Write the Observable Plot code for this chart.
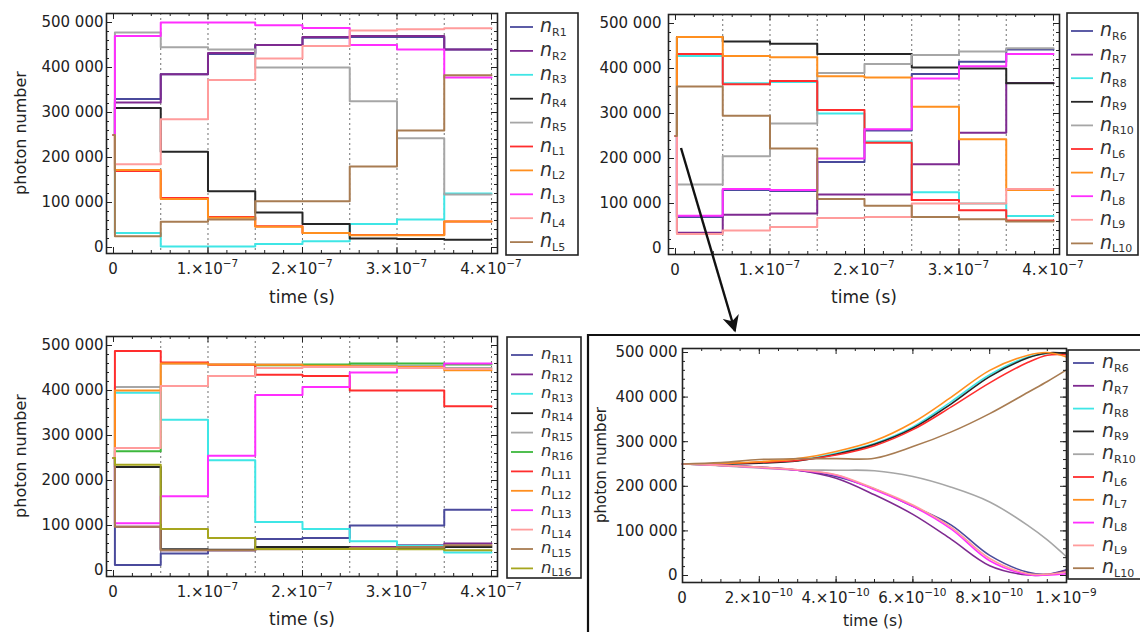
<!DOCTYPE html>
<html><head><meta charset="utf-8">
<script src="https://cdn.jsdelivr.net/npm/d3@7"></script>
<script src="https://cdn.jsdelivr.net/npm/@observablehq/plot@0.6"></script>
<style>
html,body{margin:0;padding:0;background:#fff;}
#root{position:relative;width:1140px;height:632px;overflow:hidden;background:#fff;}
.panel{position:absolute;}
#overlay{position:absolute;left:0;top:0;pointer-events:none;}
</style></head><body><div id="root"></div>
<script>
// ---------- data ----------
const stepTimes = [0.015e-7, 0.5e-7, 1.0e-7, 1.5e-7, 2.0e-7, 2.5e-7, 3.0e-7, 3.5e-7];
const endTime = 4.0e-7;
const startValue = 250000;

const colNavy = "#4a4a9c", colPurple = "#7e2a90", colCyan = "#3fe6e6", colBlack = "#262626",
      colGray = "#a6a6a6", colRed = "#ff2d2d", colOrange = "#ff8f1f", colMagenta = "#ff2eff",
      colPink = "#ff9c9c", colBrown = "#a87c52", colGreen = "#3db83d", colOlive = "#a6a61e";

const p1Names = ["R1","R2","R3","R4","R5","L1","L2","L3","L4","L5"];
const p1Colors = [colNavy,colPurple,colCyan,colBlack,colGray,colRed,colOrange,colMagenta,colPink,colBrown];
const p1Levels = [
  [330000, 385000, 430000, 450000, 466000, 468000, 468000, 440000],
  [322000, 385000, 432000, 450000, 468000, 470000, 470000, 440000],
  [32000, 2000, 2000, 8000, 14000, 52000, 62000, 120000],
  [310000, 213000, 125000, 78000, 52000, 20000, 19000, 17000],
  [478000, 445000, 440000, 400000, 400000, 325000, 243000, 118000],
  [170000, 110000, 68000, 47000, 32000, 28000, 28000, 58000],
  [172000, 108000, 66000, 46000, 32000, 27000, 27000, 58000],
  [470000, 500000, 500000, 494000, 488000, 450000, 440000, 378000],
  [185000, 285000, 372000, 420000, 448000, 482000, 485000, 487000],
  [25000, 57000, 62000, 103000, 103000, 180000, 260000, 383000]
];

const p2Names = ["R6","R7","R8","R9","R10","L6","L7","L8","L9","L10"];
const p2Colors = [colNavy,colPurple,colCyan,colBlack,colGray,colRed,colOrange,colMagenta,colPink,colBrown];
const p2Levels = [
  [70000, 130000, 128000, 192000, 262000, 388000, 415000, 442000],
  [35000, 75000, 78000, 120000, 120000, 187000, 257000, 368000],
  [428000, 367000, 370000, 300000, 238000, 125000, 100000, 72000],
  [470000, 460000, 455000, 432000, 432000, 402000, 400000, 367000],
  [142000, 205000, 278000, 390000, 410000, 430000, 438000, 445000],
  [432000, 365000, 372000, 308000, 235000, 108000, 85000, 62000],
  [470000, 428000, 425000, 383000, 380000, 315000, 243000, 130000],
  [73000, 132000, 130000, 200000, 265000, 378000, 405000, 432000],
  [32000, 40000, 48000, 68000, 70000, 100000, 100000, 132000],
  [360000, 295000, 222000, 110000, 95000, 70000, 65000, 60000]
];

const p3Names = ["R11","R12","R13","R14","R15","R16","L11","L12","L13","L14","L15","L16"];
const p3Colors = [colNavy,colPurple,colCyan,colBlack,colGray,colGreen,colRed,colOrange,colMagenta,colPink,colBrown,colOlive];
const p3Levels = [
  [12000, 38000, 45000, 70000, 72000, 100000, 100000, 135000],
  [97000, 45000, 45000, 48000, 50000, 52000, 56000, 60000],
  [395000, 335000, 245000, 108000, 92000, 65000, 55000, 40000],
  [230000, 47000, 46000, 52000, 52000, 50000, 48000, 52000],
  [408000, 460000, 458000, 458000, 456000, 456000, 455000, 450000],
  [265000, 410000, 432000, 456000, 458000, 460000, 460000, 458000],
  [488000, 462000, 457000, 435000, 432000, 400000, 400000, 365000],
  [400000, 460000, 458000, 457000, 455000, 454000, 452000, 445000],
  [105000, 165000, 255000, 390000, 408000, 440000, 450000, 460000],
  [272000, 410000, 432000, 450000, 452000, 452000, 450000, 448000],
  [97000, 45000, 45000, 47000, 48000, 50000, 52000, 56000],
  [235000, 92000, 72000, 48000, 48000, 48000, 47000, 45000]
];

const p4Names = ["R6","R7","R8","R9","R10","L6","L7","L8","L9","L10"];
const p4Colors = p2Colors;
const p4Times = [0, 1e-10, 2e-10, 3e-10, 4e-10, 5e-10, 6e-10, 7e-10, 8e-10, 9e-10, 9.5e-10, 10e-10];
const p4Values = [
  [250000, 247000, 243000, 236000, 222000, 194000, 155000, 113000, 45000, 7000, 3000, 13000],
  [250000, 247000, 243000, 236000, 218000, 181000, 137000, 81000, 22000, 1000, 2000, 12000],
  [250000, 250000, 253000, 258000, 274000, 296000, 333000, 390000, 450000, 490000, 498000, 496000],
  [250000, 250000, 252000, 257000, 272000, 294000, 330000, 385000, 446000, 488000, 499000, 498000],
  [250000, 246000, 241000, 237000, 236000, 235000, 222000, 198000, 165000, 112000, 80000, 42000],
  [250000, 251000, 254000, 258000, 270000, 291000, 327000, 378000, 432000, 478000, 494000, 495000],
  [250000, 251000, 255000, 262000, 278000, 302000, 343000, 400000, 460000, 494000, 500000, 490000],
  [250000, 247000, 242000, 236000, 225000, 192000, 155000, 104000, 33000, 2000, 1000, 4000],
  [250000, 247000, 243000, 237000, 226000, 195000, 158000, 108000, 38000, 4000, 3000, 8000],
  [250000, 253000, 260000, 262000, 262000, 263000, 289000, 322000, 363000, 411000, 435000, 461000]
];

const yTicks = [0, 100000, 200000, 300000, 400000, 500000];
const yTickLabels = ["0", "100 000", "200 000", "300 000", "400 000", "500 000"];
const xTicksA = [0, 1e-7, 2e-7, 3e-7, 4e-7];
const xTickMantA = ["0", "1.×10", "2.×10", "3.×10", "4.×10"];
const xTickExpA = ["", "−7", "−7", "−7", "−7"];
const xTicksB = [0, 2e-10, 4e-10, 6e-10, 8e-10, 1e-9];
const xTickMantB = ["0", "2.×10", "4.×10", "6.×10", "8.×10", "1.×10"];
const xTickExpB = ["", "−10", "−10", "−10", "−10", "−9"];
const switchTimes = [0.5e-7, 1e-7, 1.5e-7, 2e-7, 2.5e-7, 3e-7, 3.5e-7, 4e-7];

// ---------- build rows ----------
function stepRows(names, levels) {
  const rows = [];
  names.forEach((nm, i) => {
    rows.push({name: nm, t: 0, v: startValue});
    stepTimes.forEach((t, k) => rows.push({name: nm, t, v: levels[i][k]}));
    rows.push({name: nm, t: endTime, v: levels[i][levels[i].length - 1]});
  });
  return rows;
}
function curveRows(names, times, values) {
  const rows = [];
  names.forEach((nm, i) => times.forEach((t, k) => rows.push({name: nm, t, v: values[i][k]})));
  return rows;
}

const FONT = "DejaVu Sans";
const yFmtMap = new Map(yTicks.map((t, i) => [t, yTickLabels[i]]));
const panels = [];

function makePanel(o) {
  // inward frame ticks on all four sides (Mathematica style)
  const [x0, x1] = o.xDomain, [y0, y1] = o.yDomain;
  const xpp = (x1 - x0) / (o.width - o.ml - o.mr);
  const ypp = (y1 - y0) / (o.height - o.mt - o.mb);
  const tk = {stroke: "#222", strokeWidth: 1};
  const tickMarks = [];
  for (const [ticks, len] of [[o.xMinor, 3], [o.xTicks, 6]]) {
    tickMarks.push(Plot.ruleX(ticks, {...tk, y1: y0, y2: y0 + len * ypp}));
    tickMarks.push(Plot.ruleX(ticks, {...tk, y1: y1, y2: y1 - len * ypp}));
  }
  for (const [ticks, len] of [[o.yMinor, 3], [yTicks, 6]]) {
    tickMarks.push(Plot.ruleY(ticks, {...tk, x1: x0, x2: x0 + len * xpp}));
    tickMarks.push(Plot.ruleY(ticks, {...tk, x1: x1, x2: x1 - len * xpp}));
  }
  const plot = Plot.plot({
    width: o.width, height: o.height,
    marginTop: o.mt, marginRight: o.mr, marginBottom: o.mb, marginLeft: o.ml,
    x: {domain: o.xDomain, axis: null}, y: {domain: o.yDomain, axis: null},
    color: {domain: o.names, range: o.colors},
    style: {fontFamily: FONT, fontSize: "15px", color: "#222", background: "transparent", overflow: "visible"},
    marks: [
      o.grid ? Plot.ruleX(o.grid, {stroke: "#707070", strokeDasharray: "2,3", strokeWidth: 1}) : null,
      Plot.line(o.rows, {x: "t", y: "v", z: "name", stroke: "name", strokeWidth: o.lw, curve: o.curve}),
      ...tickMarks,
      Plot.axisY({anchor: "left", ticks: yTicks, tickSize: 0, tickPadding: o.yPad, tickFormat: d => yFmtMap.get(d), label: null, fontSize: 15, fill: "#222"}),
      Plot.frame({stroke: "#222", strokeWidth: 1.6})
    ]
  });
  const div = document.createElement("div");
  div.className = "panel";
  div.style.left = o.left + "px";
  div.style.top = o.top + "px";
  div.appendChild(plot);
  document.getElementById("root").appendChild(div);
  panels.push({o, plot});
}

const xMinorA = d3.range(0, 4.01e-7, 0.2e-7);
const xMinorB = d3.range(0, 1.001e-9, 0.5e-10);
const yMinor = d3.range(0, 500001, 20000);

const baseA = {width: 510, ml: 106, mr: 13, mt: 13, xDomain: [-0.074e-7, 4.0635e-7], yDomain: [-13333, 520000], lw: 2,
  xTicks: xTicksA, xMant: xTickMantA, xExp: xTickExpA, xMinor: xMinorA, yMinor, grid: switchTimes, curve: "step-after"};

makePanel({...baseA, left: 0, top: 0, height: 310, mb: 57, yPad: 3,
  names: p1Names, colors: p1Colors, rows: stepRows(p1Names, p1Levels)});
makePanel({...baseA, left: 562, top: 1, height: 310, mb: 57, yPad: 7,
  names: p2Names, colors: p2Colors, rows: stepRows(p2Names, p2Levels)});
makePanel({...baseA, left: 0, top: 323, height: 309, mb: 56, yPad: 3,
  names: p3Names, colors: p3Colors, rows: stepRows(p3Names, p3Levels)});
makePanel({left: 580, top: 300, width: 500, height: 332, ml: 102, mr: 14, mt: 48, mb: 50, yPad: 5, lw: 1.6,
  xDomain: [0, 1e-9], yDomain: [-15695, 508969],
  xTicks: xTicksB, xMant: xTickMantB, xExp: xTickExpB, xMinor: xMinorB, yMinor, grid: null, curve: "catmull-rom",
  names: p4Names, colors: p4Colors, rows: curveRows(p4Names, p4Times, p4Values)});

// ---------- overlay: tick labels, legends, titles, box, arrow ----------
const svg = d3.select("#root").append("svg").attr("id", "overlay").attr("width", 1140).attr("height", 632)
  .attr("font-family", FONT);

// x tick labels with real superscripts, placed through each plot's x scale
for (const {o, plot} of panels) {
  const sx = plot.scale("x");
  const base = o.top + (o.height - o.mb) + 20.5;
  o.xTicks.forEach((t, i) => {
    const tx = svg.append("text").attr("x", o.left + sx.apply(t)).attr("y", base)
      .attr("text-anchor", "middle").attr("font-size", 15).attr("fill", "#222");
    tx.append("tspan").text(o.xMant[i]);
    if (o.xExp[i]) tx.append("tspan").attr("font-size", 10.5).attr("dy", -7).text(o.xExp[i]);
  });
}

function legend(o) {
  svg.append("rect").attr("x", o.x0).attr("y", o.y0).attr("width", o.x1 - o.x0).attr("height", o.y1 - o.y0)
    .attr("fill", "#fff").attr("stroke", "#222").attr("stroke-width", 1.6);
  o.names.forEach((nm, i) => {
    const y = o.ey0 + i * o.edy;
    svg.append("line").attr("x1", o.lx0).attr("x2", o.lx1).attr("y1", y).attr("y2", y)
      .attr("stroke", o.colors[i]).attr("stroke-width", 1.8);
    const t = svg.append("text").attr("x", o.tx).attr("y", y + o.ns * 0.27).attr("fill", "#333");
    t.append("tspan").attr("font-style", "italic").attr("font-size", o.ns).text("n");
    t.append("tspan").attr("font-size", 11).attr("dy", 3.5).text(nm);
  });
}
legend({x0: 506, x1: 578, y0: 13, y1: 255, lx0: 510, lx1: 533, tx: 540, ey0: 27, edy: 23.9, ns: 19, names: p1Names, colors: p1Colors});
legend({x0: 1067, x1: 1138, y0: 13, y1: 255, lx0: 1071, lx1: 1093, tx: 1100, ey0: 31, edy: 23.6, ns: 19, names: p2Names, colors: p2Colors});
legend({x0: 507, x1: 581, y0: 337, y1: 578, lx0: 511, lx1: 533, tx: 541, ey0: 355, edy: 19.4, ns: 16.5, names: p3Names, colors: p3Colors});
legend({x0: 1068, x1: 1150, y0: 350, y1: 579, lx0: 1073, lx1: 1094, tx: 1102, ey0: 363, edy: 22.8, ns: 19, names: p4Names, colors: p4Colors});

function vlabel(x, y, size) {
  svg.append("text").attr("transform", `translate(${x},${y}) rotate(-90)`).attr("text-anchor", "middle")
    .attr("dominant-baseline", "central").attr("font-size", size).attr("fill", "#222").text("photon number");
}
function hlabel(x, y, size) {
  svg.append("text").attr("x", x).attr("y", y).attr("text-anchor", "middle")
    .attr("dominant-baseline", "central").attr("font-size", size).attr("fill", "#222").text("time (s)");
}
vlabel(20, 133, 16);
vlabel(20, 456, 16);
vlabel(601, 465, 15);
hlabel(302, 297, 17);
hlabel(864, 297, 17);
hlabel(302, 619, 17);
hlabel(873, 621, 15.5);

// outer box around zoomed panel
svg.append("path").attr("d", "M588,640V335H1150").attr("fill", "none").attr("stroke", "#111").attr("stroke-width", 2.2);

// arrow
svg.append("defs").append("marker").attr("id", "ah").attr("viewBox", "0 0 10 10").attr("refX", 9).attr("refY", 5)
  .attr("markerWidth", 7).attr("markerHeight", 7).attr("orient", "auto").attr("markerUnits", "strokeWidth")
  .append("path").attr("d", "M0,0L10,5L0,10L3,5Z").attr("fill", "#111");
svg.append("line").attr("x1", 681).attr("y1", 148).attr("x2", 735).attr("y2", 331)
  .attr("stroke", "#111").attr("stroke-width", 2.4).attr("marker-end", "url(#ah)");
</script></body></html>
